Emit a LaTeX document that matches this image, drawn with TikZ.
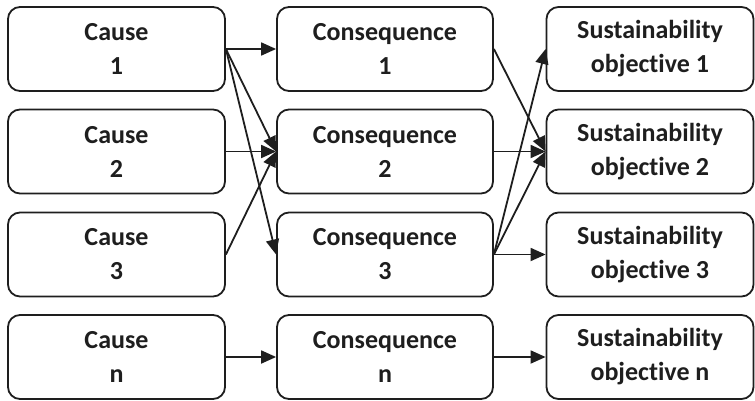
\documentclass[tikz,border=0pt]{standalone}
\usepackage{fontspec}
\setmainfont{Carlito}[Ligatures={NoCommon,NoRare,NoContextual}]
\usetikzlibrary{arrows.meta}
\begin{document}
\begin{tikzpicture}[x=1pt, y=1pt,
  box/.style={draw=ink, line width=1.8pt, rounded corners=12pt, minimum height=84pt, inner sep=0pt, align=center, text=ink, font=\bfseries\fontsize{26}{34}\selectfont},
  link/.style={draw=ink, line width=1.8pt, -{Triangle[length=15pt, width=13pt]}}]
\definecolor{ink}{HTML}{1E1E1E}
\useasboundingbox (0,0) rectangle (755,400);
% causes
\node[box, minimum width=217pt] (cause1) at (116.5, 351) {Cause\\1};
\node[box, minimum width=217pt] (cause2) at (116.5, 248.5) {Cause\\2};
\node[box, minimum width=217pt] (cause3) at (116.5, 145.5) {Cause\\3};
\node[box, minimum width=217pt] (causen) at (116.5, 43) {Cause\\n};
% consequences
\node[box, minimum width=216pt] (cons1) at (385, 351) {Consequence\\1};
\node[box, minimum width=216pt] (cons2) at (385, 248.5) {Consequence\\2};
\node[box, minimum width=216pt] (cons3) at (385, 145.5) {Consequence\\3};
\node[box, minimum width=216pt] (consn) at (385, 43) {Consequence\\n};
% objectives
\node[box, minimum width=207pt] (obj1) at (650, 351) {Sustainability\\objective 1};
\node[box, minimum width=207pt] (obj2) at (650, 248.5) {Sustainability\\objective 2};
\node[box, minimum width=207pt] (obj3) at (650, 145.5) {Sustainability\\objective 3};
\node[box, minimum width=207pt] (objn) at (650, 43) {Sustainability\\objective n};
% cause -> consequence
\draw[link] (cause1.east) -- (cons1.west);
\draw[link] (cause1.east) -- (cons2.west);
\draw[link] (cause1.east) -- (cons3.west);
\draw[link] (cause2.east) -- (cons2.west);
\draw[link] (cause3.east) -- (cons2.west);
\draw[link] (causen.east) -- (consn.west);
% consequence -> objective
\draw[link] (cons1.east) -- (obj2.west);
\draw[link] (cons2.east) -- (obj2.west);
\draw[link] (cons3.east) -- (obj1.west);
\draw[link] (cons3.east) -- (obj2.west);
\draw[link] (cons3.east) -- (obj3.west);
\draw[link] (consn.east) -- (objn.west);
\end{tikzpicture}
\end{document}
